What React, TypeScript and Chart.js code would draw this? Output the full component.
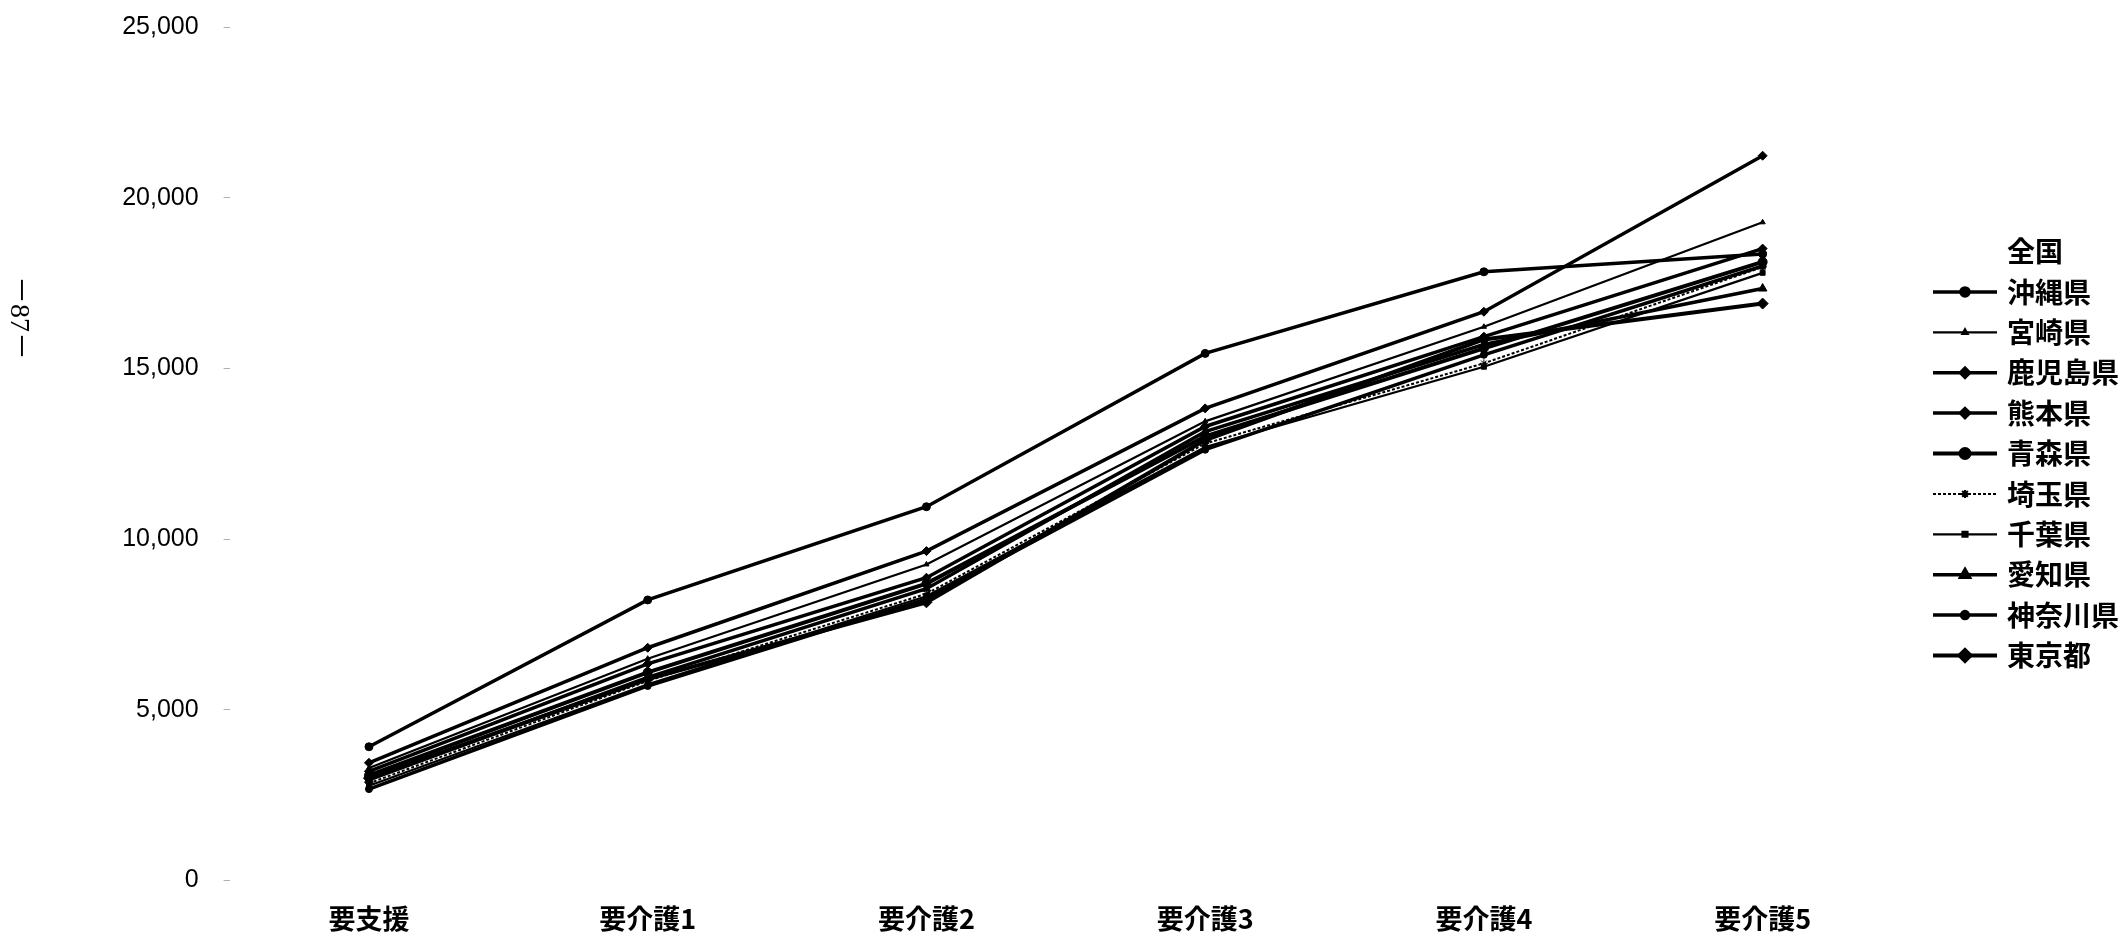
import React, { useEffect, useRef } from "react";
import { Chart, registerables } from "chart.js";
import * as helpers from "chart.js/helpers";

Chart.register(...registerables);

const categories = ["要支援", "要介護1", "要介護2", "要介護3", "要介護4", "要介護5"];
const seriesNames = ["全国", "沖縄県", "宮崎県", "鹿児島県", "熊本県", "青森県", "埼玉県", "千葉県", "愛知県", "神奈川県", "東京都"];
const yTicks = [0, 5000, 10000, 15000, 20000, 25000];

const zenkoku = [3100, 6150, 8750, 13100, 15750, 18100];
const okinawa = [3920, 8220, 10950, 15440, 17830, 18350];
const miyazaki = [3300, 6500, 9260, 13450, 16220, 19280];
const kagoshima = [3450, 6820, 9650, 13830, 16660, 21230];
const kumamoto = [3200, 6350, 8870, 13300, 15930, 18510];
const aomori = [3080, 6100, 8700, 13010, 15590, 18120];
const saitama = [2850, 5850, 8400, 12800, 15150, 17970];
const chiba = [2780, 5750, 8330, 12700, 15050, 17800];
const aichi = [2950, 5950, 8550, 13150, 15700, 17340];
const kanagawa = [2680, 5700, 8250, 12620, 15400, 18000];
const tokyo = [3000, 5900, 8150, 12900, 15850, 16900];

const seriesValues = [zenkoku, okinawa, miyazaki, kagoshima, kumamoto, aomori, saitama, chiba, aichi, kanagawa, tokyo];

// styles (kept apart from the data)
const lineWidths = [0, 3.5, 2.2, 3.5, 3.5, 4, 2, 2.2, 3.5, 3.5, 4];
const pointStyles = ["circle", "circle", "triangle", "rectRot", "rectRot", "circle", "star", "rect", "triangle", "circle", "rectRot"];
const pointRadii = [0, 4, 3, 4.5, 4.5, 4.5, 4, 3.5, 5, 3.5, 5.5];
const dashes: number[][] = [[], [], [], [], [], [], [3, 2], [], [], [], []];

const CJK = '"Noto Sans CJK JP", "Noto Sans", sans-serif';

const legendPlugin = {
  id: "customLegend",
  afterDraw(chart: any) {
    const ctx = chart.ctx;
    const area = chart.chartArea;
    const x0 = area.right + 31;
    const lineLen = 64;
    const textX = area.right + 105;
    const y0 = 251.5;
    const step = 40.4;
    ctx.save();
    chart.data.datasets.forEach((ds: any, i: number) => {
      const y = y0 + i * step;
      if (ds.borderWidth > 0) {
        ctx.beginPath();
        ctx.strokeStyle = "#000";
        ctx.lineWidth = ds.borderWidth;
        ctx.setLineDash(ds.borderDash || []);
        ctx.moveTo(x0, y);
        ctx.lineTo(x0 + lineLen, y);
        ctx.stroke();
        ctx.setLineDash([]);
        ctx.fillStyle = "#000";
        ctx.strokeStyle = "#000";
        helpers.drawPoint(ctx, { pointStyle: ds.pointStyle, radius: ds.pointRadius, rotation: 0, borderWidth: 1 }, x0 + lineLen / 2, y);
      }
      ctx.fillStyle = "#000";
      ctx.font = `bold 28px ${CJK}`;
      ctx.textAlign = "left";
      ctx.textBaseline = "middle";
      ctx.fillText(ds.label, textX, y);
    });
    ctx.restore();
  },
};

export default function App() {
  const canvasRef = useRef<HTMLCanvasElement | null>(null);

  useEffect(() => {
    const canvas = canvasRef.current;
    if (!canvas) return;
    const datasets = seriesNames.map((name, i) => ({
      label: name,
      data: seriesValues[i],
      borderColor: i === 0 ? "rgba(0,0,0,0)" : "#000",
      backgroundColor: "#000",
      borderWidth: lineWidths[i],
      borderDash: dashes[i],
      pointStyle: pointStyles[i],
      pointRadius: pointRadii[i],
      pointBackgroundColor: "#000",
      pointBorderColor: "#000",
      pointBorderWidth: 1,
      tension: 0,
      fill: false,
    }));
    const chart = new Chart(canvas, {
      type: "line",
      data: { labels: categories, datasets },
      plugins: [legendPlugin],
      options: {
        animation: false,
        responsive: false,
        maintainAspectRatio: false,
        layout: { padding: { top: 27, right: 219, bottom: 0, left: 0 } },
        plugins: { legend: { display: false }, tooltip: { enabled: false } },
        scales: {
          x: {
            offset: true,
            grid: { display: false },
            border: { display: false },
            ticks: {
              color: "#000",
              padding: 14,
              maxRotation: 0,
              autoSkip: false,
              font: { family: CJK, size: 27, weight: "bold" },
            },
            afterFit: (scale: any) => {
              scale.height = 55.4;
              scale.paddingLeft = 0;
              scale.paddingRight = 0;
            },
          },
          y: {
            min: 0,
            max: 25000,
            afterBuildTicks: (scale: any) => {
              scale.ticks = yTicks.map((v) => ({ value: v }));
            },
            grid: { drawOnChartArea: false, drawTicks: true, tickLength: 6, color: "#b0b0b0", lineWidth: 1 },
            border: { display: false },
            ticks: {
              color: "#000",
              padding: 25,
              font: { family: '"Liberation Sans", Arial, sans-serif', size: 25 },
              callback: (v: any) => Number(v).toLocaleString("en-US"),
            },
            afterFit: (scale: any) => {
              scale.width = 229.6;
              scale.paddingTop = 0;
              scale.paddingBottom = 0;
            },
          },
        },
      },
    });
    return () => chart.destroy();
  }, []);

  return (
    <div style={{ position: "fixed", left: 0, top: 0, width: 2121, height: 936, background: "#fff" }}>
      <canvas ref={canvasRef} width={2121} height={936} style={{ position: "absolute", left: 0, top: 0, width: 2121, height: 936 }} />
      <div
        style={{
          position: "absolute",
          left: 23,
          top: 318,
          transform: "translate(-50%, -50%) rotate(90deg)",
          fontFamily: '"Liberation Serif", "Noto Sans CJK JP", serif',
          fontSize: 28,
          whiteSpace: "nowrap",
          color: "#000",
        }}
      >
        －87－
      </div>
    </div>
  );
}
